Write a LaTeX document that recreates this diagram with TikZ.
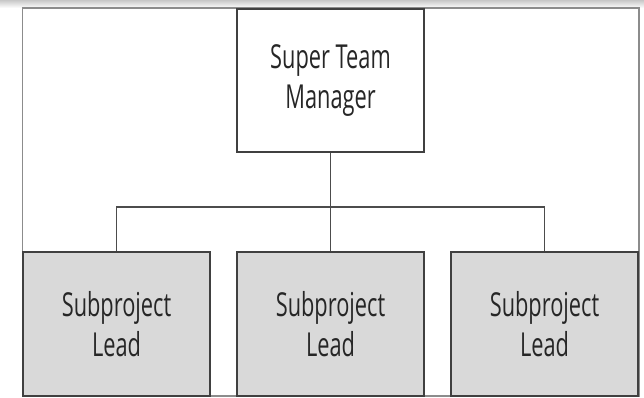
\documentclass[tikz,border=0pt]{standalone}
\usepackage{fontspec}
\setmainfont[FakeStretch=0.66]{Open Sans}

\begin{document}
\begin{tikzpicture}[
  x=1pt, y=-1pt,
  every node/.style={font=\fontsize{33}{40}\selectfont, align=center, inner sep=0pt, text=black!85},
  boss/.style={draw=black!75, line width=1.4pt, fill=white, minimum width=187pt, minimum height=143pt},
  lead/.style={boss, fill=black!15, minimum height=144pt}
]
\useasboundingbox (0,0) rectangle (644,398);
% soft strip along the top edge
\shade [top color=black!22, bottom color=white] (0,0) rectangle (644,8);
% outer frame
\draw [black!45, line width=1.8pt] (22.5,8) rectangle (639,396);

\node[boss] (mgr) at (330.5,80.5) {Super Team\\Manager};

% the three leads under the manager
\foreach \x [count=\i] in {116.5,330.5,544.5} {
  \node[lead] (lead\i) at (\x,324) {Subproject\\Lead};
}
  \coordinate (bar) at (330.5,207);
  \draw [black!70, line width=1.3pt] (mgr.south) -- (lead2.north);
  \draw [black!70, line width=1.3pt] (lead1.north) |- (bar) -| (lead3.north);

\end{tikzpicture}
\end{document}
